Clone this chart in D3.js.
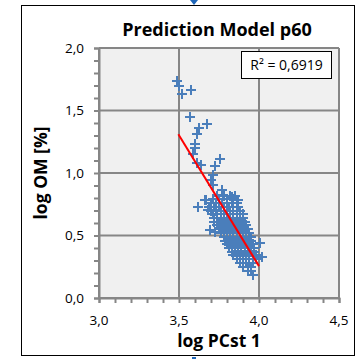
<!DOCTYPE html>
<html>
<head>
<meta charset="utf-8">
<script src="https://cdn.jsdelivr.net/npm/d3@7"></script>
<style>
  html, body { margin: 0; padding: 0; background: #fff; }
  svg { display: block; font-family: "Open Sans", "Noto Sans", sans-serif; }
</style>
</head>
<body>
<div class="chart"></div>
<script>
// data
const titleText = "Prediction Model p60";
const xLabel = "log PCst 1";
const yLabel = "log OM [%]";
const r2Text = "R\u00B2 = 0,6919";
const xTicks = [3.0, 3.5, 4.0, 4.5];
const yTicks = [0.0, 0.5, 1.0, 1.5, 2.0];

// scattered points [log PCst 1, log OM]
const outliers = [
  [3.49, 1.74], [3.50, 1.70], [3.517, 1.63], [3.575, 1.664],
  [3.569, 1.446], [3.627, 1.363], [3.675, 1.392], [3.612, 1.31],
  [3.60, 1.23], [3.60, 1.198], [3.59, 1.152], [3.61, 1.077],
  [3.636, 1.064], [3.756, 1.11], [3.725, 1.056], [3.714, 0.984],
  [3.70, 0.944], [3.71, 0.904], [3.767, 0.864], [3.66, 0.784],
  [3.62, 0.73], [3.777, 0.824], [3.83, 0.81], [3.87, 0.784],
  [3.683, 0.704], [3.669, 0.784], [3.694, 0.544], [3.725, 0.53],
  [3.964, 0.184], [4.006, 0.44], [4.017, 0.33]
];

// dense cluster, one row per log OM level
const clusterRows = [
  [0.82, [3.74, 3.78, 3.82, 3.85]],
  [0.79, [3.71, 3.75, 3.80, 3.84]],
  [0.76, [3.70, 3.73, 3.77, 3.80, 3.83, 3.86]],
  [0.73, [3.69, 3.72, 3.75, 3.78, 3.81, 3.84, 3.87]],
  [0.70, [3.70, 3.73, 3.76, 3.78, 3.80, 3.82, 3.84, 3.86, 3.88]],
  [0.67, [3.71, 3.74, 3.76, 3.78, 3.80, 3.82, 3.84, 3.86, 3.88, 3.90]],
  [0.64, [3.72, 3.74, 3.76, 3.78, 3.80, 3.82, 3.84, 3.86, 3.88, 3.90]],
  [0.61, [3.72, 3.75, 3.77, 3.79, 3.81, 3.83, 3.85, 3.87, 3.89, 3.91]],
  [0.58, [3.74, 3.76, 3.78, 3.80, 3.82, 3.84, 3.86, 3.88, 3.90, 3.92]],
  [0.55, [3.75, 3.77, 3.79, 3.81, 3.83, 3.85, 3.87, 3.89, 3.91, 3.93]],
  [0.52, [3.76, 3.78, 3.80, 3.82, 3.84, 3.86, 3.88, 3.90, 3.92, 3.94]],
  [0.49, [3.78, 3.80, 3.82, 3.84, 3.86, 3.88, 3.90, 3.92, 3.94, 3.95]],
  [0.46, [3.79, 3.81, 3.83, 3.85, 3.87, 3.89, 3.91, 3.93, 3.95]],
  [0.43, [3.80, 3.82, 3.84, 3.86, 3.88, 3.90, 3.92, 3.94, 3.96]],
  [0.40, [3.81, 3.83, 3.85, 3.87, 3.89, 3.91, 3.93, 3.95, 3.97]],
  [0.37, [3.83, 3.85, 3.87, 3.89, 3.91, 3.93, 3.95, 3.97]],
  [0.34, [3.84, 3.86, 3.88, 3.90, 3.92, 3.94, 3.96, 3.98]],
  [0.31, [3.86, 3.88, 3.90, 3.92, 3.94, 3.96, 3.98]],
  [0.28, [3.88, 3.90, 3.92, 3.94, 3.96]],
  [0.25, [3.90, 3.93, 3.95]],
  [0.22, [3.93, 3.95]]
];

// linear trend line end points
const trendLine = [[3.496, 1.31], [4.0, 0.255]];

const W = 356, H = 359;
const margin = { left: 99, top: 48, right: 17, bottom: 61 };

const svg = d3.select('.chart').append('svg')
  .attr('width', W)
  .attr('height', H);

// outer frame
svg.append('rect')
  .attr('x', 21.5).attr('y', 5.5)
  .attr('width', 333).attr('height', 350)
  .attr('fill', '#fff')
  .attr('stroke', '#000')
  .attr('stroke-width', 1);

// small blue handles on the frame
svg.append('path')
  .attr('d', 'M190,0 L198,0 L194,5 Z')
  .attr('fill', '#1f66b8');
svg.append('rect')
  .attr('x', 192).attr('y', 357).attr('width', 4).attr('height', 2)
  .attr('fill', '#1f66b8');

const x = d3.scaleLinear().domain([3, 4.5]).range([margin.left, W - margin.right]);
const y = d3.scaleLinear().domain([0, 2]).range([H - margin.bottom, margin.top]);

// plot background
svg.append('rect')
  .attr('x', x(3)).attr('y', y(2))
  .attr('width', x(4.5) - x(3)).attr('height', y(0) - y(2))
  .attr('fill', '#f0f0f0');

// gridlines
const grid = svg.append('g').attr('stroke', '#868686').attr('stroke-width', 2);
xTicks.forEach(function(t) {
  grid.append('line').attr('x1', x(t)).attr('x2', x(t)).attr('y1', y(0)).attr('y2', y(2));
});
yTicks.forEach(function(t) {
  grid.append('line').attr('x1', x(3)).attr('x2', x(4.5)).attr('y1', y(t)).attr('y2', y(t));
});

// axes with minor ticks
const xAxis = svg.append('g')
  .attr('transform', 'translate(0,' + y(0) + ')')
  .call(d3.axisBottom(x).ticks(15).tickSize(5).tickFormat(''));
const yAxis = svg.append('g')
  .attr('transform', 'translate(' + x(3) + ',0)')
  .call(d3.axisLeft(y).ticks(20).tickSize(5).tickFormat(''));
[xAxis, yAxis].forEach(function(a) {
  a.selectAll('.domain').attr('stroke', '#868686').attr('stroke-width', 2);
  a.selectAll('.tick line').attr('stroke', '#868686').attr('stroke-width', 2);
});

const fmt = function(v) { return v.toFixed(1).replace('.', ','); };

// tick labels
svg.append('g').selectAll('text')
  .data(xTicks).enter().append('text')
  .attr('x', function(d) { return x(d); })
  .attr('y', y(0) + 27)
  .attr('text-anchor', 'middle')
  .style('font-size', '13.5px')
  .attr('fill', '#000')
  .text(fmt);
svg.append('g').selectAll('text')
  .data(yTicks).enter().append('text')
  .attr('x', x(3) - 15)
  .attr('y', function(d) { return y(d) + 4.5; })
  .attr('text-anchor', 'end')
  .style('font-size', '13.5px')
  .attr('fill', '#000')
  .text(fmt);

// points
const clusterPts = [];
clusterRows.forEach(function(r) {
  r[1].forEach(function(v) { clusterPts.push([v, r[0]]); });
});
const allPts = outliers.concat(clusterPts);

svg.append('g')
  .attr('stroke', '#4a7ebb')
  .attr('stroke-width', 2)
  .selectAll('path')
  .data(allPts).enter().append('path')
  .attr('d', function(d) {
    const cx = Math.round(x(d[0])), cy = Math.round(y(d[1]));
    return 'M' + (cx - 5) + ',' + cy + 'H' + (cx + 5) + 'M' + cx + ',' + (cy - 5) + 'V' + (cy + 5);
  });

// trend line
svg.append('line')
  .attr('x1', x(trendLine[0][0])).attr('y1', y(trendLine[0][1]))
  .attr('x2', x(trendLine[1][0])).attr('y2', y(trendLine[1][1]))
  .attr('stroke', '#ff0000')
  .attr('stroke-width', 2);

// R² box
svg.append('rect')
  .attr('x', 241.5).attr('y', 51.5)
  .attr('width', 90).attr('height', 27)
  .attr('fill', '#fff')
  .attr('stroke', '#000');
svg.append('text')
  .attr('x', 286.5).attr('y', 70)
  .attr('text-anchor', 'middle')
  .style('font-size', '14px')
  .text(r2Text);

// title and axis labels
svg.append('text')
  .attr('x', 217).attr('y', 36)
  .attr('text-anchor', 'middle')
  .style('font-size', '18px')
  .style('font-weight', 'bold')
  .text(titleText);
svg.append('text')
  .attr('x', 219).attr('y', 347)
  .attr('text-anchor', 'middle')
  .style('font-size', '17.5px')
  .style('font-weight', 'bold')
  .text(xLabel);
svg.append('text')
  .attr('transform', 'translate(47,173) rotate(-90)')
  .attr('text-anchor', 'middle')
  .style('font-size', '17.5px')
  .style('font-weight', 'bold')
  .text(yLabel);
</script>
</body>
</html>
